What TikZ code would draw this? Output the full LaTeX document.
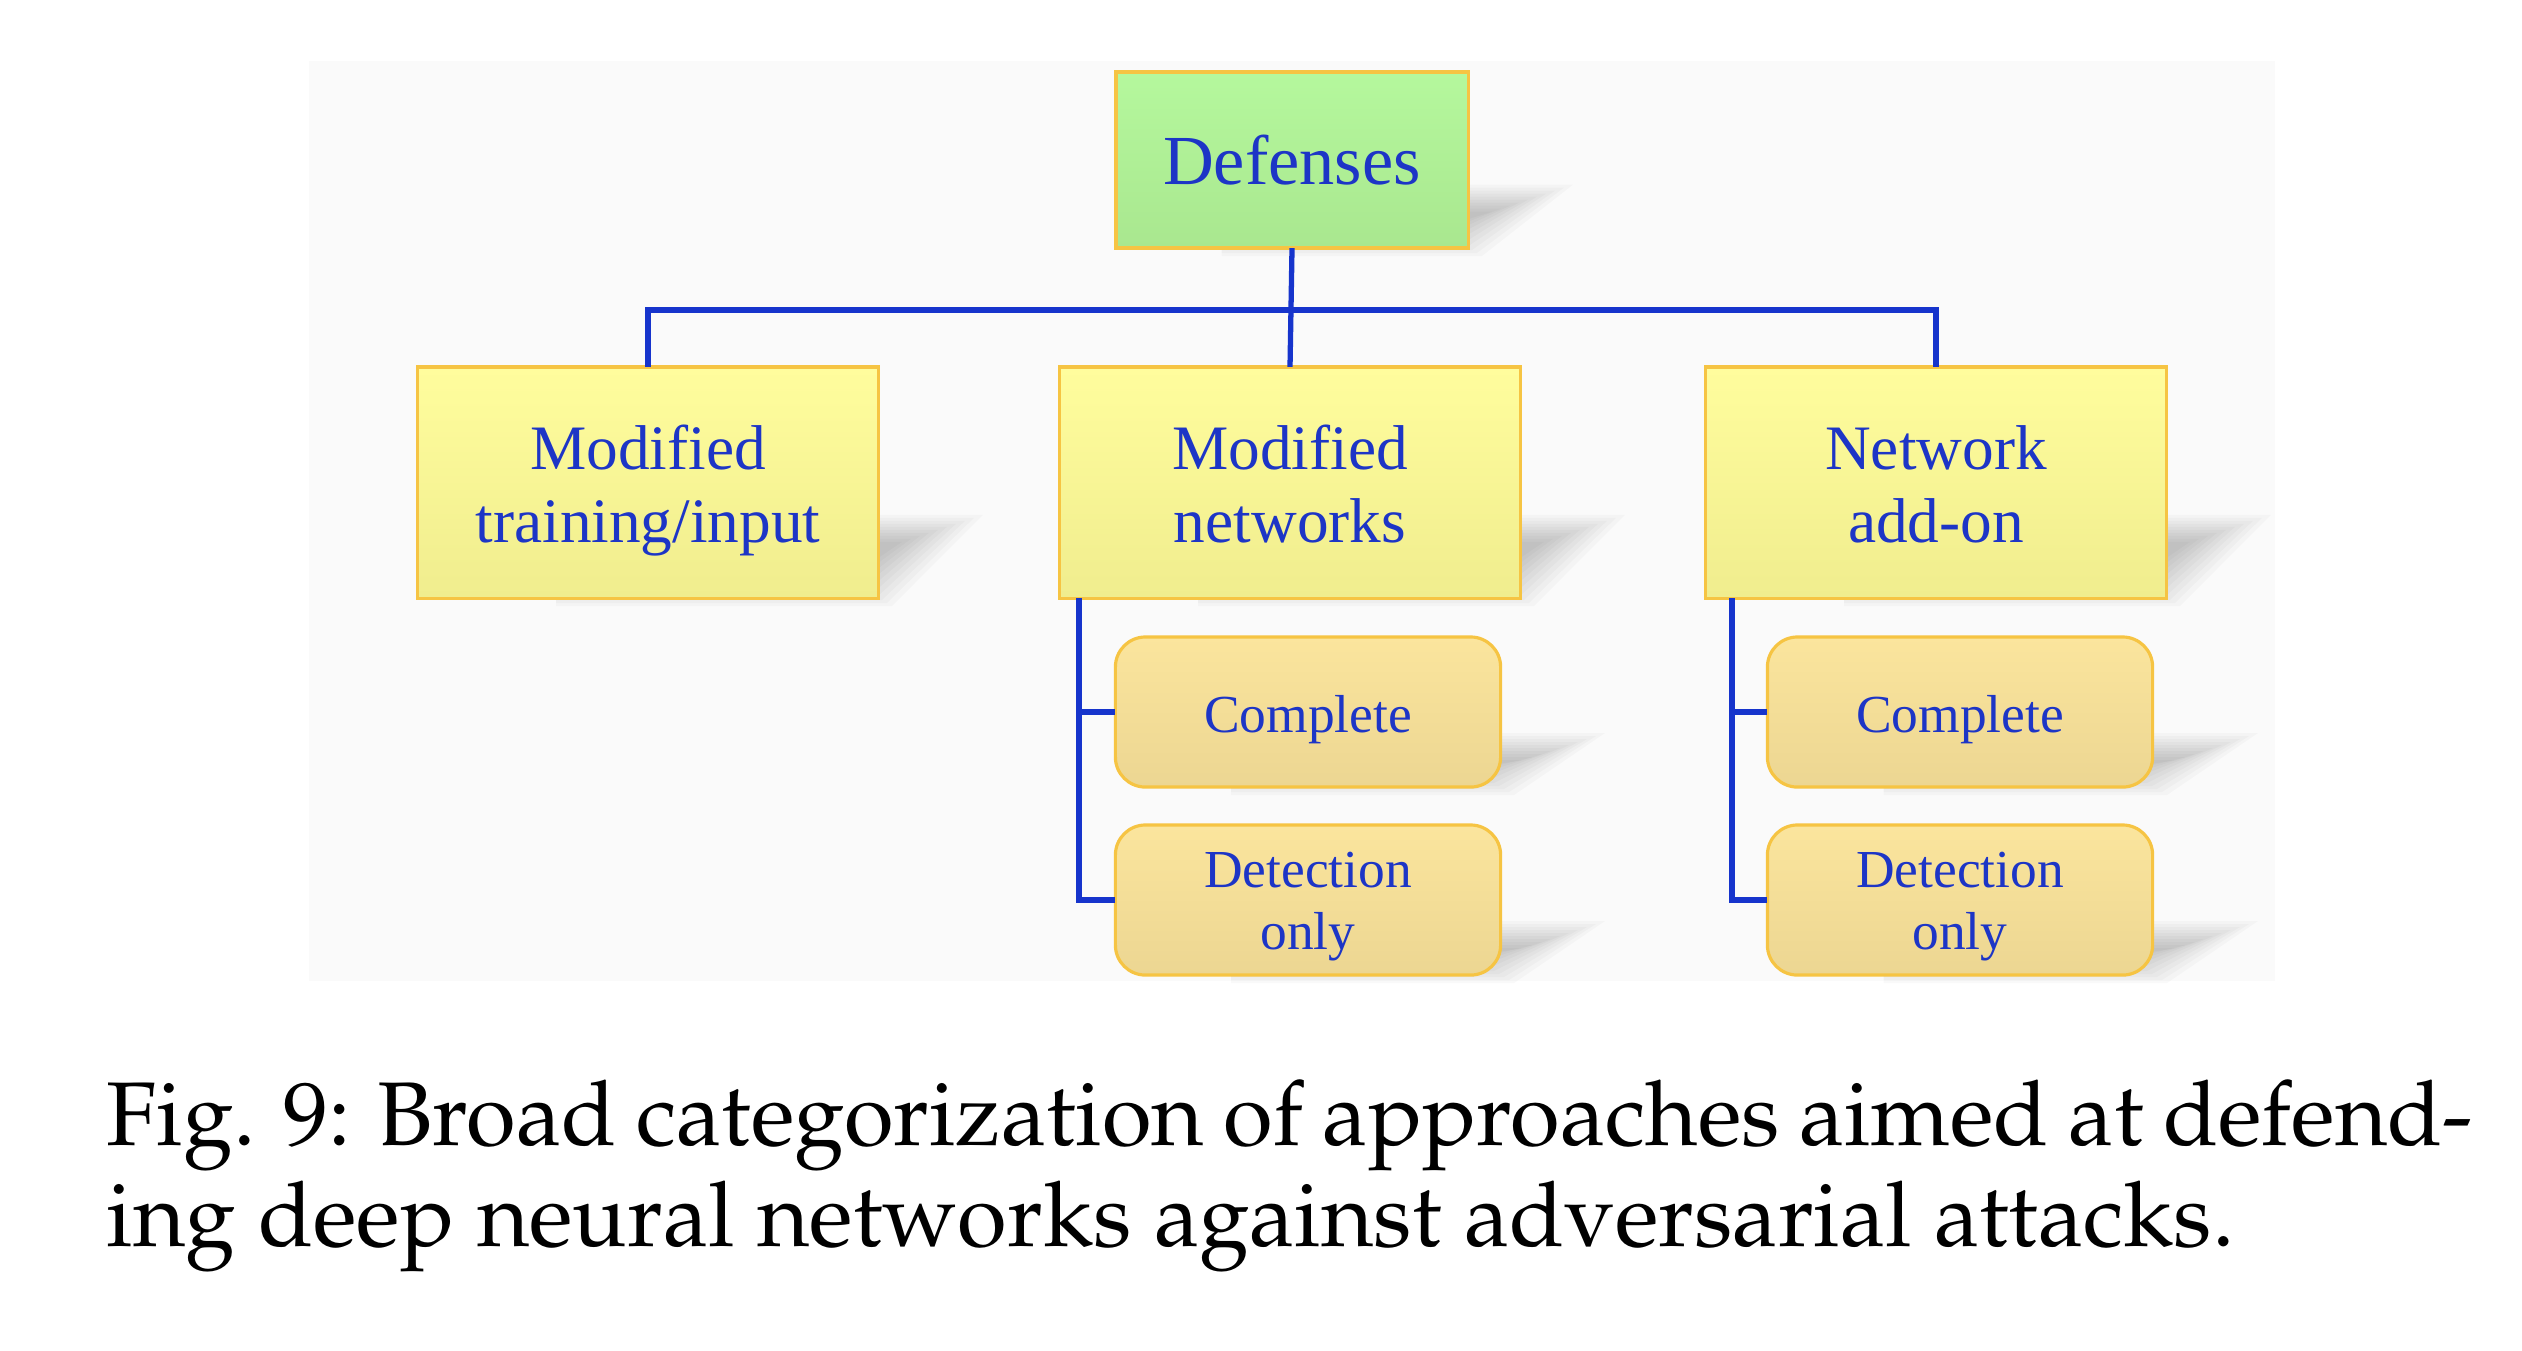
\documentclass[tikz,border=0pt]{standalone}
\usepackage[T1]{fontenc}
\usepackage{fontspec}
\setmainfont{Liberation Serif}
\definecolor{txtblue}{HTML}{1D35C6}
\definecolor{lnblue}{HTML}{1634CC}
\definecolor{bord}{HTML}{F6C443}
\definecolor{greenT}{HTML}{B5F89D}
\definecolor{greenB}{HTML}{A9E78F}
\definecolor{yelT}{HTML}{FFFD9D}
\definecolor{yelB}{HTML}{F0ED8E}
\definecolor{ochT}{HTML}{FBE59D}
\definecolor{ochB}{HTML}{ECD692}
\definecolor{panel}{HTML}{FAFAFA}
\newcommand\capfont{\fontencoding{T1}\fontfamily{ppl}\fontsize{25.7}{31}\selectfont}
% soft shadow: layered translucent shapes (x1,y1,x2,y2 of the box, pixel coords)
\newcommand\softshadow[4]{%
  \foreach \k in {0,...,9}{%
    \fill[black, opacity=0.022]
      ({#1+0.3*(#3-#1)},{#4+8-3*\k}) -- ({#3+14-5*\k},{#4+8-3*\k})
      -- ({#3+105-9*\k},{#4-0.36*(#4-#2)+3*\k}) -- ({#1+0.3*(#3-#1)},{#4-0.36*(#4-#2)+3*\k}) -- cycle;
  }}
\tikzset{
  basebox/.style={draw=bord, line width=0.9pt, text=txtblue, align=center, inner sep=0pt, outer sep=0pt},
  topbox/.style={basebox, top color=greenT, bottom color=greenB, minimum width=3.52cm, minimum height=1.76cm, font=\fontsize{20}{24}\selectfont},
  midbox/.style={basebox, top color=yelT, bottom color=yelB, minimum width=4.60cm, minimum height=2.31cm},
  leafbox/.style={basebox, top color=ochT, bottom color=ochB, rounded corners=0.3cm, minimum width=3.85cm, minimum height=1.50cm},
  lbl/.style={text=txtblue, align=center, inner sep=0pt},
  midlbl/.style={lbl, font=\fontsize{18}{20.8}\selectfont},
  leaflbl/.style={lbl, font=\fontsize{15.2}{17.5}\selectfont},
  conn/.style={draw=lnblue, line width=1.5pt}
}
\begin{document}
\begin{tikzpicture}[x=0.01cm,y=-0.01cm]
\useasboundingbox (0,0) rectangle (2522,1350);
\fill[white] (0,0) rectangle (2522,1350);
\fill[panel] (309,61) rectangle (2275,981);
% shadows
\softshadow{1116}{72}{1468}{248}
\softshadow{418}{367}{878}{598}
\softshadow{1060}{367}{1520}{598}
\softshadow{1706}{367}{2166}{598}
\softshadow{1116}{637}{1500}{787}
\softshadow{1116}{825}{1500}{975}
\softshadow{1768}{637}{2153}{787}
\softshadow{1768}{825}{2153}{975}
% boxes
\node[topbox] (def) at (1292,160) {Defenses};
\node[midbox] (m1) at (648,482.5) {};
\node[midbox] (m2) at (1290,482.5) {};
\node[midbox] (m3) at (1936,482.5) {};
\node[leafbox] (c2) at (1308,712) {};
\node[leafbox] (d2) at (1308,900) {};
\node[leafbox] (c3) at (1960,712) {};
\node[leafbox] (d3) at (1960,900) {};
% labels placed on the boxes
\node[midlbl] (t1) at (648,491) {\strut Modified\\training/input\strut};
\node[midlbl] (t2) at (1290,491) {\strut Modified\\networks\strut};
\node[midlbl] (t3) at (1936,491) {\strut Network\\add-on\strut};
\node[leaflbl] (tc2) at (1308,720) {\strut Complete};
\node[leaflbl] (td2) at (1308,906) {\strut Detection\\only\strut};
\node[leaflbl] (tc3) at (1960,720) {\strut Complete};
\node[leaflbl] (td3) at (1960,906) {\strut Detection\\only\strut};
% connectors
\coordinate (bus) at (0,310);
\draw[conn] (def.south) -- (m2.north);
\draw[conn] (m1.north) -- (m1.north |- bus) -- (m3.north |- bus) -- (m3.north);
\coordinate (v2) at (1079,598);
\coordinate (v3) at (1732,598);
\draw[conn] (v2) |- (c2.west);
\draw[conn] (v2) |- (d2.west);
\draw[conn] (v3) |- (c3.west);
\draw[conn] (v3) |- (d3.west);
% caption
\node[anchor=base west, inner sep=0pt] (cap1) at (106,1145) {\capfont\makebox[23.65cm][s]{Fig. 9: Broad categorization of approaches aimed at defend-}};
\node[anchor=base west, inner sep=0pt] (cap2) at (106,1246) {\capfont ing deep neural networks against adversarial attacks.};
\end{tikzpicture}
\end{document}
